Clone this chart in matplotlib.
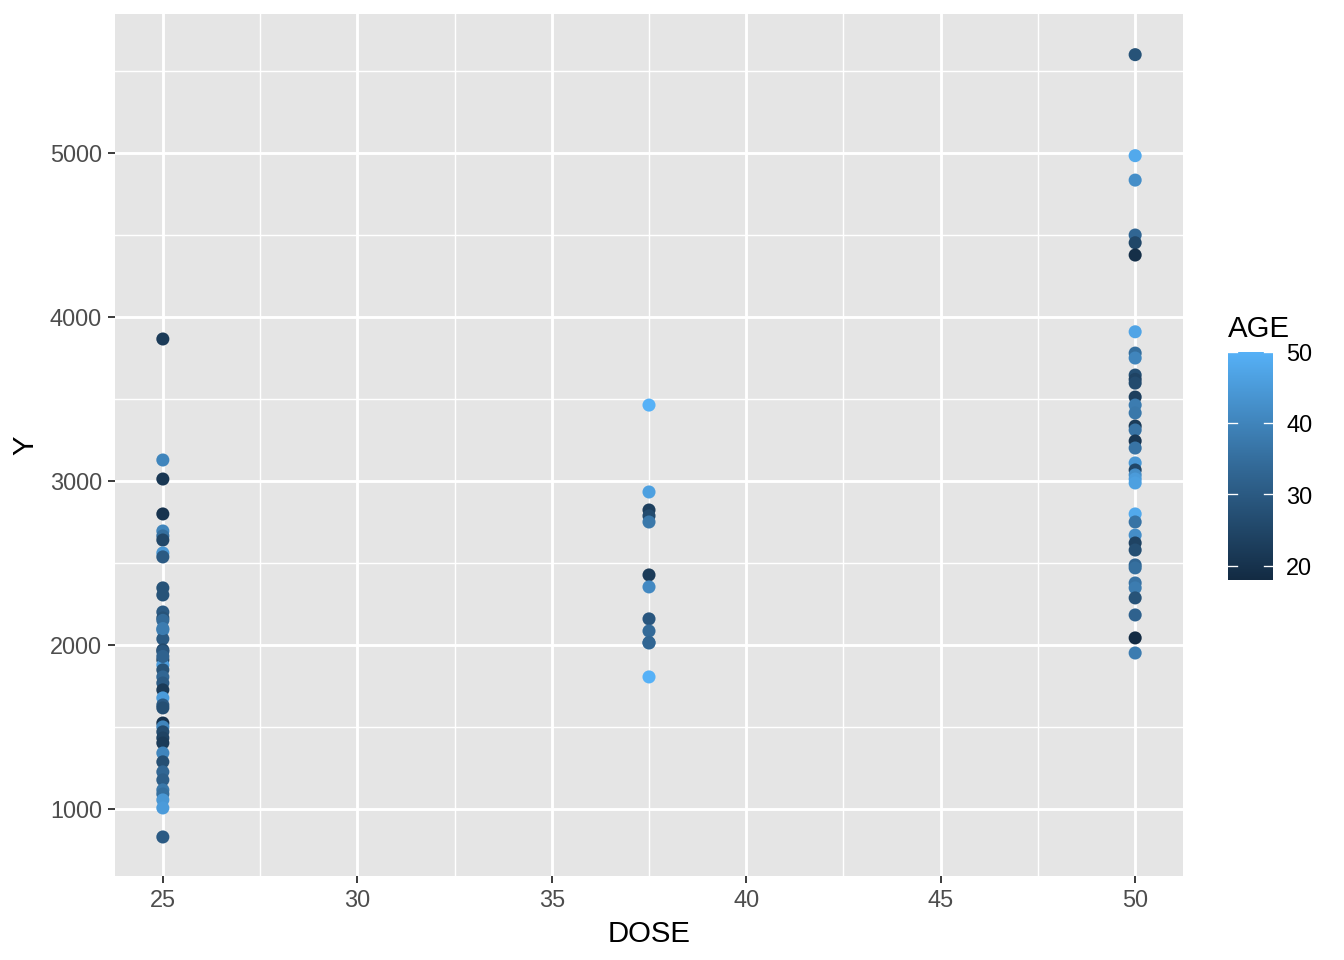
import numpy as np
import matplotlib.pyplot as plt
from matplotlib.colors import LinearSegmentedColormap, Normalize

plt.rcParams['font.family'] = ['Liberation Sans', 'DejaVu Sans']

# Data
dose_25_y = [3866, 3128, 3012, 2799, 2695, 2665, 2640, 2561, 2537, 2348, 2305,
             2201, 2165, 2091, 2037, 1970, 1909, 1878, 1848, 1805, 1768, 1726,
             1677, 1634, 1616, 1524, 1500, 1470, 1433, 1402, 1341, 1287, 1226,
             1177, 1116, 1091, 1055, 1006, 829, 2150, 2100, 1960, 1930]
dose_25_age = [22, 40, 21, 20, 40, 35, 25, 44, 30, 28, 28,
               30, 28, 40, 30, 26, 25, 45, 28, 33, 30, 22,
               45, 30, 27, 20, 40, 26, 24, 22, 40, 27, 33,
               31, 37, 35, 44, 45, 30, 34, 38, 29, 32]

dose_375_y = [3463, 2933, 2823, 2787, 2750, 2427, 2354, 2159, 2085, 2012, 2015, 1805]
dose_375_age = [50, 46, 23, 26, 37, 22, 41, 29, 34, 35, 33, 50]

dose_50_y = [5600, 4984, 4835, 4500, 4453, 4378, 3910, 3780, 3750, 3646, 3620,
             3597, 3512, 3463, 3415, 3335, 3311, 3244, 3201, 3110, 3067, 3037,
             3012, 2988, 2799, 2750, 2670, 2622, 2579, 2488, 2470, 2378, 2348,
             2287, 2183, 2043, 1951]
dose_50_age = [28, 48, 42, 33, 25, 19, 47, 35, 40, 27, 24,
               26, 23, 38, 37, 22, 36, 21, 36, 44, 25, 42,
               45, 46, 48, 36, 42, 24, 27, 33, 35, 36, 38,
               28, 32, 18, 38]

dose = np.array([25] * len(dose_25_y) + [37.5] * len(dose_375_y) + [50] * len(dose_50_y))
y = np.array(dose_25_y + dose_375_y + dose_50_y)
age = np.array(dose_25_age + dose_375_age + dose_50_age)

cmap = LinearSegmentedColormap.from_list('gg', ['#132B43', '#336A98', '#56B1F7'])
norm = Normalize(vmin=age.min(), vmax=age.max())

fig = plt.figure(figsize=(7, 5), dpi=192)
ax = fig.add_axes([115 / 1344, 1 - 876 / 960, (1183 - 115) / 1344, (876 - 14) / 960])
ax.set_facecolor('#E5E5E5')

ax.scatter(dose, y, c=age, cmap=cmap, norm=norm, s=24, linewidths=0, zorder=3)

ax.set_xlim(23.77, 51.23)
ax.set_ylim(591, 5848)
ax.set_xticks([25, 30, 35, 40, 45, 50])
ax.set_yticks([1000, 2000, 3000, 4000, 5000])
ax.set_xticks([27.5, 32.5, 37.5, 42.5, 47.5], minor=True)
ax.set_yticks([1500, 2500, 3500, 4500, 5500], minor=True)
ax.grid(which='major', color='white', linewidth=1.07)
ax.grid(which='minor', color='white', linewidth=0.53)
ax.set_axisbelow(True)
for s in ax.spines.values():
    s.set_visible(False)
ax.tick_params(which='major', length=2.75, width=0.7, color='#333333',
               labelsize=8.8, labelcolor='#4D4D4D', pad=2.2)
ax.tick_params(which='minor', length=0)
ax.set_xlabel('DOSE', fontsize=11, labelpad=3)
ax.set_ylabel('Y', fontsize=11, labelpad=4)

# colour legend
cax = fig.add_axes([1228 / 1344, 1 - 580 / 960, 45 / 1344, 228 / 960])
grad = np.linspace(age.min(), age.max(), 256).reshape(-1, 1)
cax.imshow(grad, aspect='auto', cmap=cmap, norm=norm, origin='lower',
           extent=[0, 1, age.min(), age.max()])
cax.set_xlim(0, 1)
cax.set_ylim(age.min(), age.max())
for s in cax.spines.values():
    s.set_visible(False)
cax.set_xticks([])
cax.yaxis.tick_right()
cax.set_yticks([20, 30, 40, 50])
cax.tick_params(axis='y', length=0, labelsize=8.8, pad=5)
for t in [20, 30, 40, 50]:
    cax.plot([0, 0.2], [t, t], color='white', lw=0.5)
    cax.plot([0.8, 1], [t, t], color='white', lw=0.5)
cax.text(0, 1.04, 'AGE', transform=cax.transAxes, fontsize=11, ha='left', va='bottom')

fig.savefig('out.png', dpi=192)
